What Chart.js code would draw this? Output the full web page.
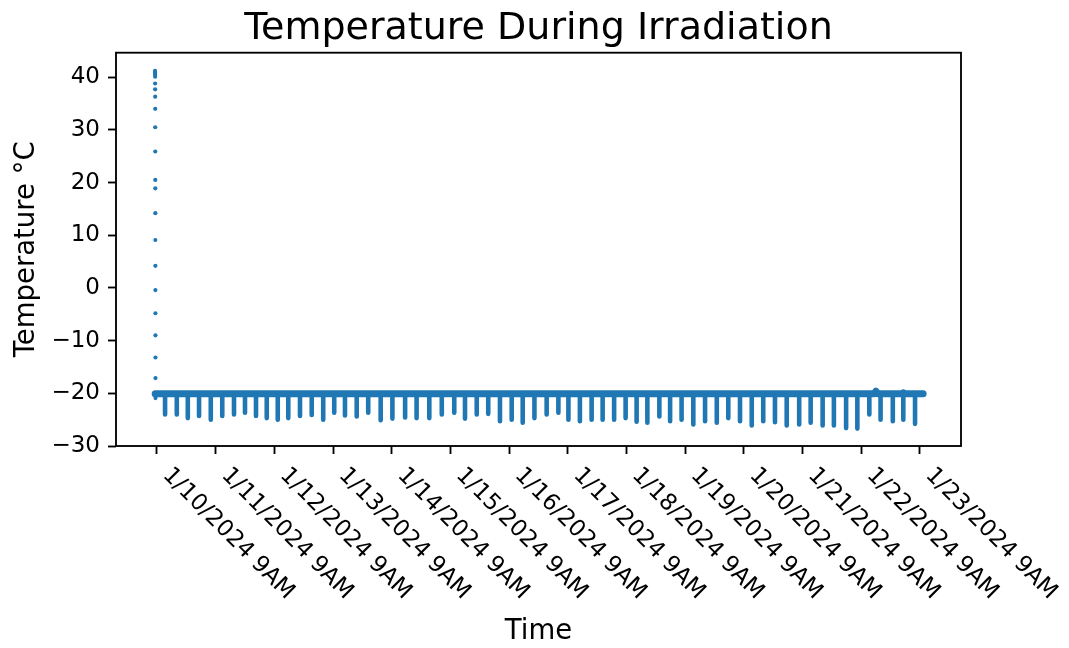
<!DOCTYPE html>
<html>
<head>
<meta charset="utf-8">
<script src="https://cdn.jsdelivr.net/npm/chart.js@4/dist/chart.umd.min.js"></script>
<style>
  html, body { margin: 0; padding: 0; background: #fff; }
  canvas { display: block; }
</style>
</head>
<body>
<canvas id="chart" width="1069" height="648"></canvas>
<script>
// Hours are counted from 1/10/2024 9AM.
const tickHours = [0, 24, 48, 72, 96, 120, 144, 168, 192, 216, 240, 264, 288, 312];
const tickLabels = ['1/10/2024 9AM', '1/11/2024 9AM', '1/12/2024 9AM', '1/13/2024 9AM',
  '1/14/2024 9AM', '1/15/2024 9AM', '1/16/2024 9AM', '1/17/2024 9AM', '1/18/2024 9AM',
  '1/19/2024 9AM', '1/20/2024 9AM', '1/21/2024 9AM', '1/22/2024 9AM', '1/23/2024 9AM'];
const yTicks = [-30, -20, -10, 0, 10, 20, 30, 40];

// Initial cool-down readings
const coolHours = [-0.80, -0.79, -0.78, -0.77, -0.76, -0.75, -0.74, -0.73, -0.72, -0.71,
  -0.70, -0.69, -0.68, -0.67, -0.66, -0.65, -0.64, -0.63, -0.62, -0.61, -0.60, -0.62];
const coolTemps = [41.2, 40.9, 40.5, 40.1, 38.8, 37.7, 36.3, 34.0, 30.5, 25.9,
  20.5, 18.9, 14.2, 9.1, 4.2, -0.4, -4.8, -9.0, -13.2, -17.1, -20.4, -20.9];

// Steady readings at the holding temperature
const holdHours = [-0.75, 293.4, 294.1, 294.8, 304.6, 305.3, 306.0, 313.4];
const holdTemps = [-20.1, -20.1, -19.6, -20.1, -20.1, -19.9, -20.1, -20.1];
const holdLevel = -20.1;

// Periodic excursions: time of each dip and its lowest reading
const dipHours = [3.3, 8.1, 12.6, 17.2, 22.0, 26.7, 31.5, 36.0, 40.5, 44.9, 49.4, 53.7, 58.5, 63.3, 68.0, 72.5,
  76.9, 81.7, 86.4, 91.5, 96.3, 101.5, 106.2, 111.4, 116.5, 121.6, 126.0, 130.8, 135.5, 140.3, 145.1, 149.6, 154.4, 159.4, 164.2,
  168.3, 173.0, 177.8, 182.3, 187.0, 191.7, 196.2, 200.6, 205.5, 209.9, 214.6, 219.4, 224.2, 229.0, 233.7, 238.5, 243.3,
  248.0, 252.8, 257.6, 262.7, 267.4, 272.3, 276.9, 281.9, 286.5, 291.4, 296.0, 301.0, 305.3, 310.1];
const dipLows = [-24.0, -24.0, -24.7, -24.3, -25.0, -24.3, -24.0, -23.7, -24.3, -24.7, -25.0, -24.7, -24.3, -24.1, -25.0, -23.7,
  -24.2, -24.4, -23.7, -25.1, -24.8, -24.6, -24.7, -24.7, -24.0, -23.7, -24.8, -24.0, -23.9, -25.3, -25.0, -25.6, -24.7, -24.0, -23.7,
  -25.0, -25.3, -25.0, -25.0, -25.0, -24.7, -25.4, -25.6, -24.4, -25.3, -25.0, -25.9, -25.3, -25.6, -24.7, -25.3, -26.1,
  -25.3, -25.5, -26.1, -25.9, -25.6, -26.1, -26.1, -26.6, -26.7, -24.0, -25.0, -25.3, -25.0, -25.8];

const BLUE = '#1f77b4';
const FONT = '"DejaVu Sans", sans-serif';
const TICK_PX = 23;
const LABEL_PX = 27.5;
const TITLE_PX = 38;
const LINE_W = 1.85;
const TICK_LEN = 8;

const coolData = coolHours.map((h, i) => ({ x: h, y: coolTemps[i] }));
const holdData = holdHours.map((h, i) => ({ x: h, y: holdTemps[i] }));
const dipData = dipHours.flatMap((h, i) => [
  { x: h, y: holdLevel }, { x: h, y: dipLows[i] }, { x: h, y: null }
]);

const minus = v => (v < 0 ? '\u2212' + Math.abs(v) : String(v));

// Frame, title, axis titles and slanted date labels
const decorations = {
  id: 'decorations',
  afterDatasetsDraw(chart) {
    const { ctx, chartArea: a, scales } = chart;
    ctx.save();
    ctx.strokeStyle = '#000';
    ctx.lineWidth = LINE_W;
    ctx.strokeRect(a.left, a.top, a.right - a.left, a.bottom - a.top);

    ctx.fillStyle = '#000';
    ctx.font = TITLE_PX + 'px ' + FONT;
    ctx.textAlign = 'center';
    ctx.textBaseline = 'alphabetic';
    ctx.fillText('Temperature During Irradiation', (a.left + a.right) / 2, a.top - 14);

    ctx.font = LABEL_PX + 'px ' + FONT;
    ctx.fillText('Time', (a.left + a.right) / 2, 639);

    ctx.save();
    ctx.translate(33.5, (a.top + a.bottom) / 2);
    ctx.rotate(-Math.PI / 2);
    ctx.fillText('Temperature \u00B0C', 0, 0);
    ctx.restore();

    ctx.font = TICK_PX + 'px ' + FONT;
    ctx.textAlign = 'left';
    tickHours.forEach((h, i) => {
      const px = scales.x.getPixelForValue(h);
      ctx.save();
      ctx.translate(px + 5, a.bottom + 30);
      ctx.rotate(Math.PI / 4);
      ctx.fillText(tickLabels[i], 0, 0);
      ctx.restore();
    });
    ctx.restore();
  }
};

new Chart(document.getElementById('chart'), {
  type: 'scatter',
  data: {
    datasets: [
      {
        label: 'hold',
        data: holdData,
        showLine: true,
        borderColor: BLUE,
        borderWidth: 7,
        borderCapStyle: 'round',
        borderJoinStyle: 'round',
        pointRadius: 0,
        tension: 0
      },
      {
        label: 'dips',
        data: dipData,
        showLine: true,
        spanGaps: false,
        borderColor: BLUE,
        borderWidth: 4.6,
        borderCapStyle: 'round',
        pointRadius: 0,
        tension: 0
      },
      {
        label: 'cool-down',
        data: coolData,
        showLine: false,
        pointRadius: 2.1,
        pointBorderWidth: 0,
        backgroundColor: BLUE,
        borderColor: BLUE
      }
    ]
  },
  options: {
    responsive: false,
    animation: false,
    events: [],
    layout: { padding: { top: 52.7, right: 108, left: 0, bottom: 0 } },
    plugins: { legend: { display: false }, title: { display: false }, tooltip: { enabled: false } },
    scales: {
      x: {
        type: 'linear',
        min: -16.77,
        max: 328.9,
        afterFit: s => { s.height = 202; },
        afterBuildTicks: s => { s.ticks = tickHours.map(v => ({ value: v })); },
        border: { display: false },
        grid: { drawOnChartArea: false, drawTicks: true, tickLength: TICK_LEN, tickColor: '#000', tickWidth: LINE_W },
        ticks: { display: false }
      },
      y: {
        type: 'linear',
        min: -30,
        max: 44.65,
        afterFit: s => { s.width = 116; },
        afterBuildTicks: s => { s.ticks = yTicks.map(v => ({ value: v })); },
        border: { display: false },
        grid: { drawOnChartArea: false, drawTicks: true, tickLength: TICK_LEN, tickColor: '#000', tickWidth: LINE_W },
        ticks: {
          color: '#000',
          padding: 8,
          font: { family: FONT, size: TICK_PX },
          callback: v => minus(v)
        }
      }
    }
  },
  plugins: [decorations]
});
</script>
</body>
</html>
